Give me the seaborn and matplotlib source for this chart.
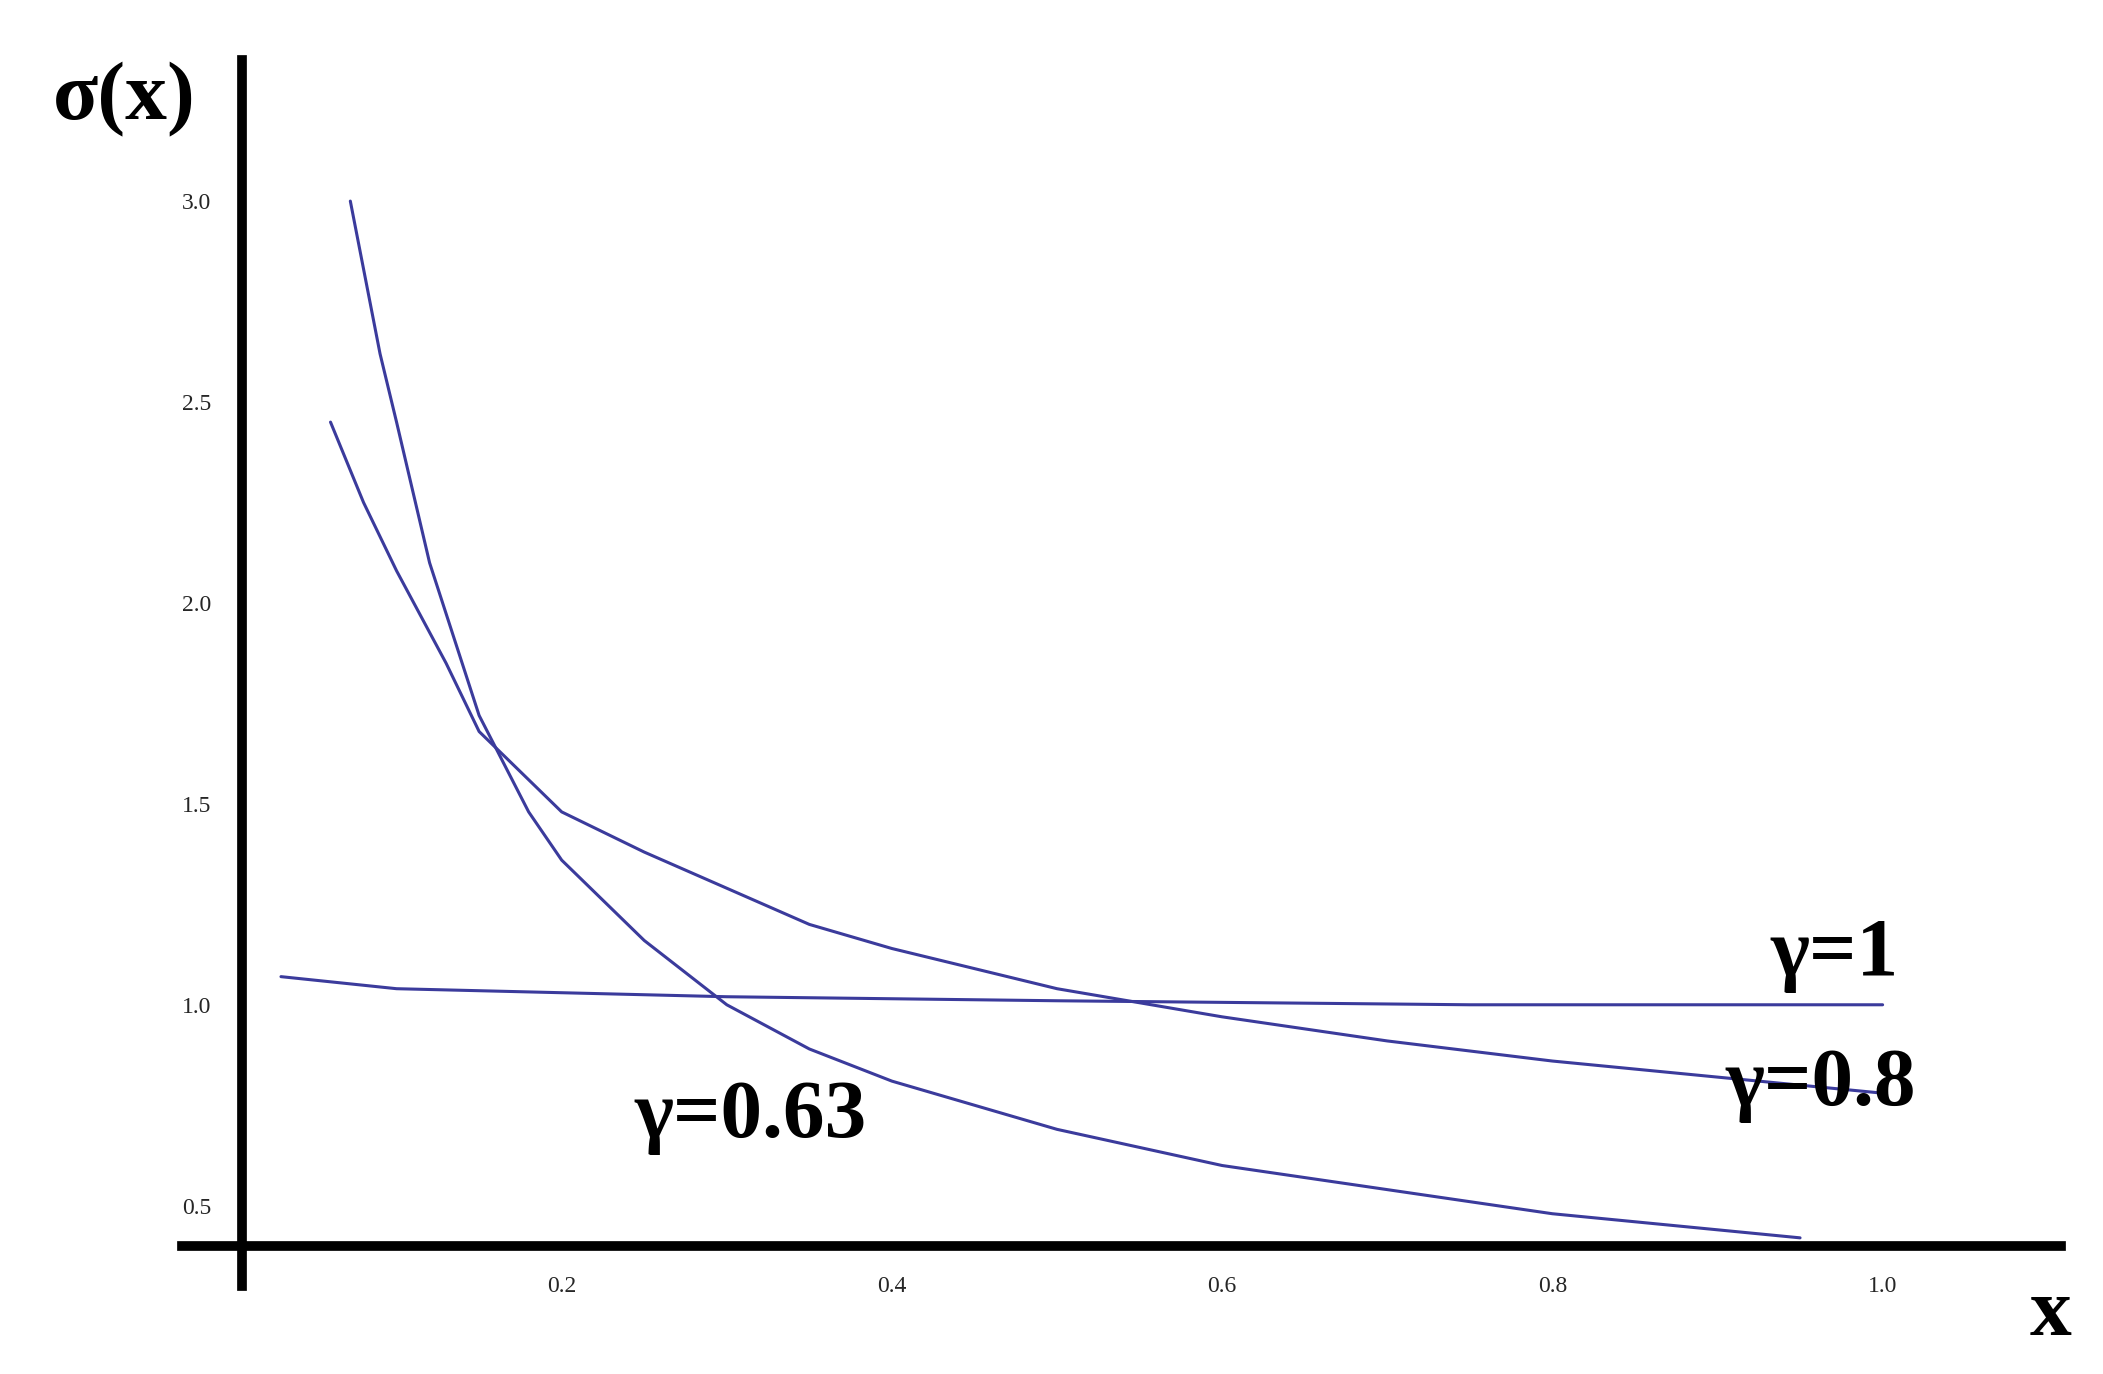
import matplotlib
matplotlib.use("Agg")
import matplotlib.pyplot as plt
import seaborn as sns
import pandas as pd

sns.set_theme(style="white")
plt.rcParams['font.family'] = ['Liberation Serif', 'DejaVu Serif']

x_g1 = [0.03, 0.1, 0.2, 0.3, 0.5, 0.75, 1.0]
y_g1 = [1.07, 1.04, 1.03, 1.02, 1.01, 1.0, 1.0]
x_g08 = [0.06, 0.08, 0.1, 0.13, 0.15, 0.2, 0.25, 0.3, 0.35, 0.4, 0.5, 0.6, 0.7, 0.8, 0.9, 1.0]
y_g08 = [2.45, 2.25, 2.08, 1.85, 1.68, 1.48, 1.38, 1.29, 1.20, 1.14, 1.04, 0.97, 0.91, 0.86, 0.82, 0.78]
x_g063 = [0.072, 0.09, 0.1, 0.12, 0.15, 0.18, 0.2, 0.25, 0.3, 0.35, 0.4, 0.5, 0.6, 0.7, 0.8, 0.9, 0.95]
y_g063 = [3.0, 2.62, 2.45, 2.1, 1.72, 1.48, 1.36, 1.16, 1.0, 0.89, 0.81, 0.69, 0.60, 0.54, 0.48, 0.44, 0.42]
xticks = [0.2, 0.4, 0.6, 0.8, 1.0]
yticks = [0.5, 1.0, 1.5, 2.0, 2.5, 3.0]

df = pd.concat([
    pd.DataFrame({"x": x_g1, "y": y_g1, "g": "1"}),
    pd.DataFrame({"x": x_g08, "y": y_g08, "g": "0.8"}),
    pd.DataFrame({"x": x_g063, "y": y_g063, "g": "0.63"}),
])

fig = plt.figure(figsize=(21.03, 13.74), dpi=100)
ax = fig.add_axes([0.0865, 0.064, 0.8935, 0.892])
col = "#3b3b9c"
sns.lineplot(data=df, x="x", y="y", units="g", estimator=None, color=col,
             lw=2.2, sort=False, ax=ax)
ax.set_xlim(-0.03, 1.108)
ax.set_ylim(0.3, 3.35)
for s in ["top", "right"]:
    ax.spines[s].set_visible(False)
ax.spines["left"].set_position(("data", 0.0065))
ax.spines["bottom"].set_position(("data", 0.4))
for s in ["left", "bottom"]:
    ax.spines[s].set_linewidth(7)
    ax.spines[s].set_color("black")
ax.set_xticks(xticks)
ax.set_xticklabels([f"{v:.1f}" for v in xticks])
ax.set_yticks(yticks)
ax.set_yticklabels([f"{v:.1f}" for v in yticks])
ax.tick_params(length=0, labelsize=17, pad=22)
ax.set_xlabel("")
ax.set_ylabel("")
ax.grid(False)

kw = dict(fontsize=60, fontweight="bold", color="black")
ax.text(1.01, 1.03, "γ=1", ha="right", va="bottom", **kw)
ax.text(1.02, 0.8, "γ=0.8", ha="right", va="center", **kw)
ax.text(0.385, 0.72, "γ=0.63", ha="right", va="center", **kw)
fig.text(0.025, 0.955, "σ(x)", ha="left", va="top", **kw)
fig.text(0.975, 0.015, "x", ha="center", va="bottom", **kw)

fig.savefig("out.png", dpi=100)
